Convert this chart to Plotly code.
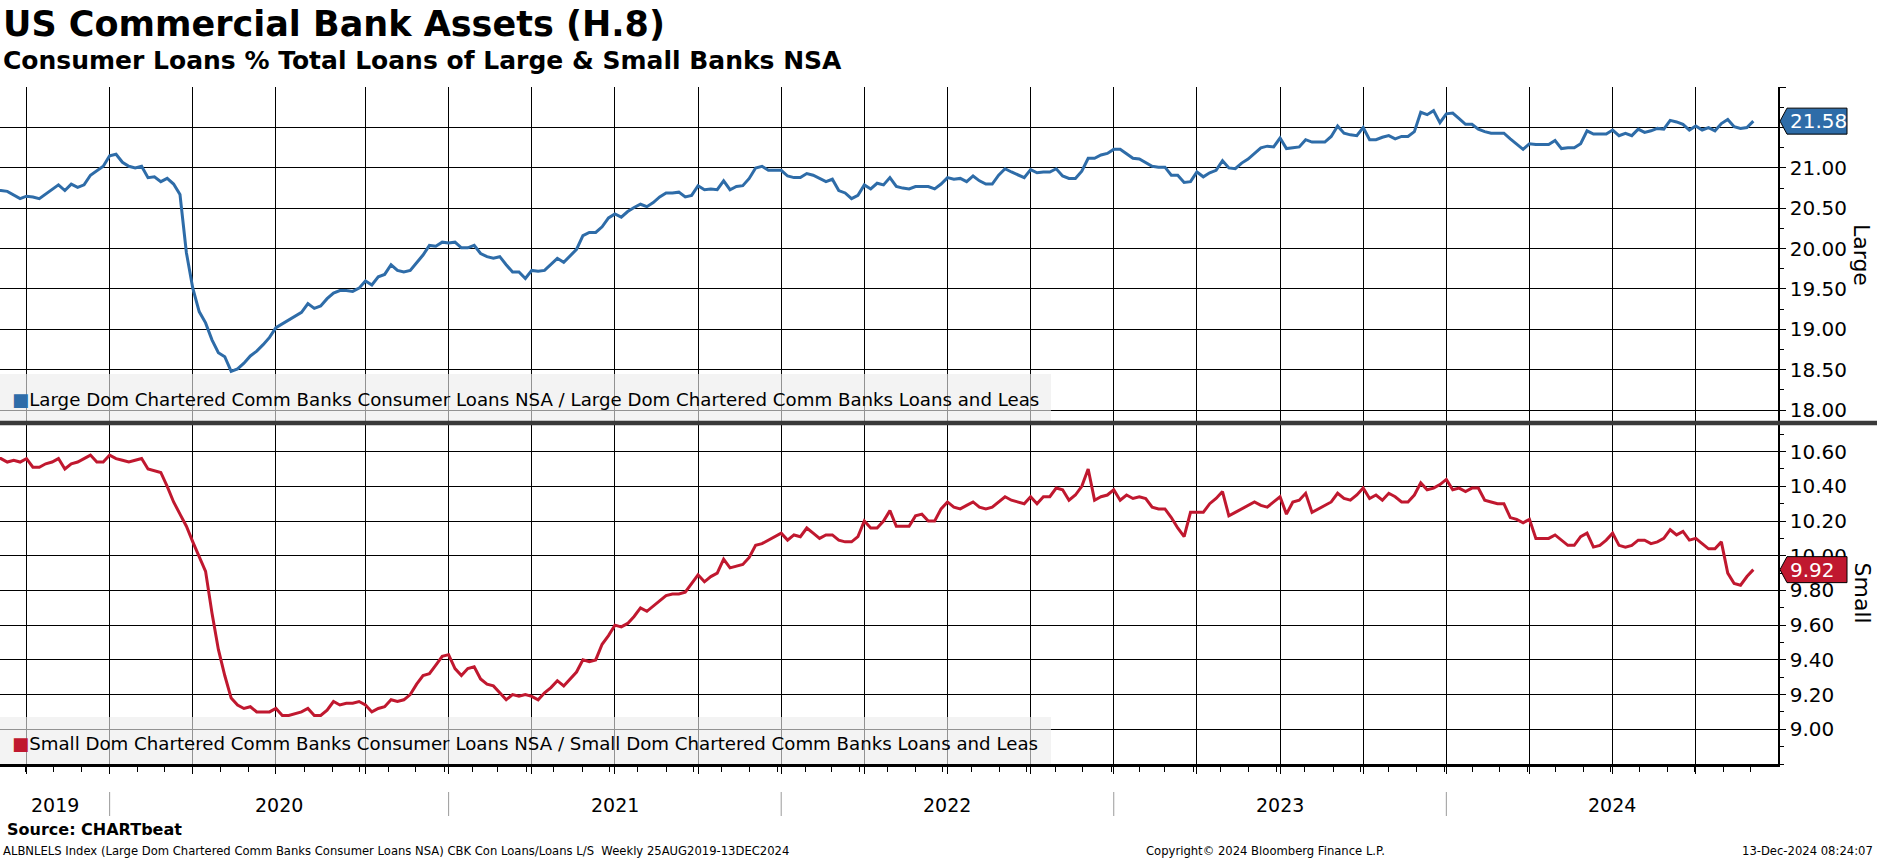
import pandas as pd
import plotly.graph_objects as go

# ---------------- data (weekly, Wednesday observations) ----------------
start_date = "2019-08-28"
large = [
    20.72, 20.72, 20.71, 20.67, 20.62, 20.65, 20.64, 20.62, 20.68, 20.73,
    20.79, 20.72, 20.80, 20.76, 20.79, 20.91, 20.97, 21.02, 21.15, 21.17,
    21.07, 21.02, 21.00, 21.02, 20.88, 20.89, 20.83, 20.87, 20.80, 20.67,
    19.95, 19.51, 19.22, 19.08, 18.87, 18.71, 18.66, 18.48, 18.51, 18.58,
    18.67, 18.73, 18.81, 18.90, 19.02, 19.07, 19.11, 19.16, 19.21, 19.32,
    19.26, 19.29, 19.38, 19.45, 19.48, 19.48, 19.47, 19.51, 19.60, 19.55,
    19.65, 19.68, 19.80, 19.73, 19.71, 19.73, 19.83, 19.92, 20.04, 20.03,
    20.08, 20.07, 20.08, 20.01, 20.01, 20.04, 19.94, 19.90, 19.88, 19.90,
    19.80, 19.71, 19.71, 19.63, 19.73, 19.72, 19.73, 19.80, 19.88, 19.83,
    19.91, 19.99, 20.16, 20.20, 20.20, 20.27, 20.38, 20.43, 20.39, 20.46,
    20.51, 20.55, 20.52, 20.57, 20.64, 20.69, 20.69, 20.70, 20.64, 20.66,
    20.78, 20.73, 20.74, 20.73, 20.84, 20.73, 20.77, 20.78, 20.87, 21.00,
    21.02, 20.97, 20.97, 20.97, 20.90, 20.88, 20.88, 20.93, 20.91, 20.87,
    20.83, 20.86, 20.72, 20.69, 20.62, 20.66, 20.79, 20.74, 20.81, 20.79,
    20.88, 20.77, 20.75, 20.74, 20.77, 20.77, 20.77, 20.74, 20.80, 20.88,
    20.86, 20.87, 20.83, 20.90, 20.84, 20.80, 20.80, 20.91, 20.99, 20.95,
    20.91, 20.88, 20.98, 20.94, 20.95, 20.95, 20.99, 20.90, 20.87, 20.87,
    20.96, 21.12, 21.12, 21.16, 21.18, 21.23, 21.23, 21.17, 21.12, 21.11,
    21.07, 21.02, 21.01, 21.01, 20.91, 20.91, 20.82, 20.83, 20.95, 20.89,
    20.94, 20.97, 21.09, 21.00, 20.99, 21.06, 21.11, 21.18, 21.25, 21.27,
    21.26, 21.37, 21.24, 21.25, 21.26, 21.35, 21.32, 21.32, 21.32, 21.39,
    21.52, 21.43, 21.41, 21.40, 21.50, 21.35, 21.35, 21.38, 21.40, 21.36,
    21.39, 21.39, 21.45, 21.69, 21.66, 21.71, 21.56, 21.67, 21.68, 21.61,
    21.54, 21.54, 21.48, 21.45, 21.43, 21.43, 21.43, 21.36, 21.30, 21.23,
    21.30, 21.29, 21.29, 21.29, 21.34, 21.24, 21.25, 21.25, 21.30, 21.46,
    21.42, 21.42, 21.42, 21.47, 21.40, 21.43, 21.40, 21.48, 21.44, 21.46,
    21.49, 21.48, 21.59, 21.57, 21.54, 21.47, 21.52, 21.47, 21.50, 21.46,
    21.55, 21.60, 21.51, 21.49, 21.50, 21.58,
]
small = [
    10.56, 10.56, 10.54, 10.55, 10.54, 10.56, 10.51, 10.51, 10.53, 10.54,
    10.56, 10.50, 10.53, 10.54, 10.56, 10.58, 10.54, 10.54, 10.58, 10.56,
    10.55, 10.54, 10.55, 10.56, 10.50, 10.49, 10.48, 10.40, 10.31, 10.24,
    10.17, 10.08, 9.99, 9.91, 9.67, 9.46, 9.31, 9.18, 9.14, 9.12,
    9.13, 9.10, 9.10, 9.10, 9.12, 9.08, 9.08, 9.09, 9.10, 9.12,
    9.08, 9.08, 9.11, 9.16, 9.14, 9.15, 9.15, 9.16, 9.14, 9.10,
    9.12, 9.13, 9.17, 9.16, 9.17, 9.20, 9.26, 9.31, 9.32, 9.37,
    9.42, 9.43, 9.35, 9.31, 9.35, 9.36, 9.29, 9.26, 9.25, 9.21,
    9.17, 9.20, 9.19, 9.20, 9.19, 9.17, 9.21, 9.24, 9.28, 9.25,
    9.29, 9.33, 9.40, 9.39, 9.40, 9.49, 9.54, 9.60, 9.59, 9.61,
    9.65, 9.70, 9.68, 9.71, 9.74, 9.77, 9.78, 9.78, 9.79, 9.84,
    9.89, 9.85, 9.88, 9.90, 9.98, 9.93, 9.94, 9.95, 9.99, 10.06,
    10.07, 10.09, 10.11, 10.13, 10.09, 10.12, 10.11, 10.16, 10.13, 10.10,
    10.12, 10.12, 10.09, 10.08, 10.08, 10.11, 10.20, 10.16, 10.16, 10.20,
    10.26, 10.17, 10.17, 10.17, 10.23, 10.24, 10.20, 10.20, 10.27, 10.31,
    10.28, 10.27, 10.29, 10.31, 10.28, 10.27, 10.28, 10.31, 10.34, 10.32,
    10.31, 10.30, 10.34, 10.30, 10.34, 10.34, 10.39, 10.38, 10.32, 10.35,
    10.40, 10.50, 10.32, 10.34, 10.35, 10.38, 10.32, 10.35, 10.33, 10.34,
    10.33, 10.28, 10.27, 10.27, 10.22, 10.16, 10.11, 10.25, 10.25, 10.25,
    10.30, 10.33, 10.37, 10.23, 10.25, 10.27, 10.29, 10.31, 10.29, 10.28,
    10.31, 10.34, 10.24, 10.31, 10.32, 10.36, 10.25, 10.27, 10.29, 10.31,
    10.36, 10.33, 10.32, 10.35, 10.39, 10.33, 10.35, 10.32, 10.36, 10.34,
    10.31, 10.31, 10.35, 10.42, 10.38, 10.39, 10.41, 10.44, 10.38, 10.39,
    10.37, 10.39, 10.39, 10.32, 10.31, 10.30, 10.30, 10.22, 10.21, 10.19,
    10.21, 10.10, 10.10, 10.10, 10.12, 10.09, 10.06, 10.06, 10.11, 10.13,
    10.05, 10.06, 10.09, 10.13, 10.06, 10.05, 10.06, 10.09, 10.09, 10.07,
    10.08, 10.10, 10.15, 10.12, 10.14, 10.09, 10.10, 10.07, 10.04, 10.04,
    10.08, 9.90, 9.84, 9.83, 9.88, 9.92,
]
dates = pd.date_range(start_date, periods=len(large), freq="7D")

title_text = "US Commercial Bank Assets (H.8)"
subtitle_text = "Consumer Loans % Total Loans of Large & Small Banks NSA"
large_name = "Large Dom Chartered Comm Banks Consumer Loans NSA / Large Dom Chartered Comm Banks Loans and Leas"
small_name = "Small Dom Chartered Comm Banks Consumer Loans NSA / Small Dom Chartered Comm Banks Loans and Leas"
large_axis_title = "Large"
small_axis_title = "Small"
large_ticks = [18.0, 18.5, 19.0, 19.5, 20.0, 20.5, 21.0, 21.5, 22.0]
large_hidden = [21.5, 22.0]
small_ticks = [9.0, 9.2, 9.4, 9.6, 9.8, 10.0, 10.2, 10.4, 10.6]
years = [2019, 2020, 2021, 2022, 2023, 2024]
x_range = ["2019-09-03", "2024-12-31"]
large_range = [17.839, 22.003]
small_range = [8.80, 10.765]
source_text = "Source: CHARTbeat"
footer_left = "ALBNLELS Index (Large Dom Chartered Comm Banks Consumer Loans NSA) CBK Con Loans/Loans L/S  Weekly 25AUG2019-13DEC2024"
footer_mid = "Copyright\u00a9 2024 Bloomberg Finance L.P."
footer_right = "13-Dec-2024 08:24:07"

# ---------------- style ----------------
BLUE = "#2e6ca8"
RED = "#c0182f"
FONT = "DejaVu Sans"
W, H = 1877, 859
ML, MR, MT, MB = 0, 99, 87, 95
PH = H - MT - MB
split = (H - MB - 423) / PH  # paper y of the divider

# quarter gridlines at the first observation of each quarter
qstarts = pd.date_range("2019-10-01", "2024-10-01", freq="QS")
grid_dates = [dates[dates >= q][0] for q in qstarts]
year_starts = [dates[dates >= pd.Timestamp(f"{y}-01-01")][0] for y in years[1:]]

fig = go.Figure()
fig.add_trace(go.Scatter(x=dates, y=large, mode="lines", line=dict(color=BLUE, width=3),
                         xaxis="x", yaxis="y", showlegend=False, name=large_name))
fig.add_trace(go.Scatter(x=dates, y=small, mode="lines", line=dict(color=RED, width=3),
                         xaxis="x2", yaxis="y2", showlegend=False, name=small_name))

xcommon = dict(type="date", range=x_range, tickmode="array", tickvals=grid_dates,
               showgrid=True, gridcolor="black", gridwidth=1.3, zeroline=False,
               showticklabels=False)
ycommon = dict(side="right", showgrid=True, gridcolor="black", gridwidth=1.3, zeroline=False,
               ticks="outside", ticklen=6, tickwidth=1.3, tickcolor="black",
               showline=True, linecolor="black", linewidth=1.5,
               tickfont=dict(family=FONT, size=20, color="black"))

fig.update_layout(
    width=W, height=H, margin=dict(l=ML, r=MR, t=MT, b=MB),
    paper_bgcolor="white", plot_bgcolor="white", showlegend=False,
    font=dict(family=FONT, color="black"),
    xaxis=dict(**xcommon, anchor="y", domain=[0, 1], ticks=""),
    xaxis2=dict(**xcommon, anchor="y2", domain=[0, 1], matches="x",
                ticks="outside", ticklen=7, tickcolor="black", tickwidth=1.3,
                showline=True, linecolor="black", linewidth=2.5,
                minor=dict(ticks="outside", ticklen=5, tickcolor="black", dtick="M1",
                           tick0="2019-09-01", showgrid=False)),
    yaxis=dict(**ycommon, anchor="x", domain=[split, 1], range=large_range,
               tickmode="array", tickvals=large_ticks,
               ticktext=["" if v in large_hidden else f"{v:.2f}" for v in large_ticks],
               minor=dict(tickmode="linear", tick0=18.0, dtick=0.25, ticks="outside",
                          ticklen=4, tickcolor="black", showgrid=False)),
    yaxis2=dict(**ycommon, anchor="x2", domain=[0, split], range=small_range,
                tickmode="array", tickvals=small_ticks,
                ticktext=[f"{v:.2f}" for v in small_ticks],
                minor=dict(tickmode="linear", tick0=9.0, dtick=0.1, ticks="outside",
                           ticklen=4, tickcolor="black", showgrid=False)),
)

def py(pix):
    return (H - MB - pix) / PH

def px(pix):
    return (pix - ML) / (W - ML - MR)

shapes = []
ann = []

# legend boxes
for y0, y1 in [(374, 423), (717, 764)]:
    shapes.append(dict(type="rect", xref="paper", yref="paper", x0=0, x1=px(1051),
                       y0=py(y1), y1=py(y0), fillcolor="rgba(236,236,236,0.62)",
                       line=dict(width=0), layer="above"))
for name, color, ypix in [(large_name, BLUE, 399), (small_name, RED, 743)]:
    ann.append(dict(xref="paper", yref="paper", x=0, y=py(ypix), xanchor="left", yanchor="middle",
                    xshift=10, showarrow=False,
                    text=f"<span style='color:{color}'>\u25a0</span>{name}",
                    font=dict(family=FONT, size=18.2, color="black")))

# divider between panels
shapes.append(dict(type="line", xref="paper", yref="paper", x0=0, x1=px(W), y0=split, y1=split,
                   line=dict(color="#3a3a3a", width=4.5), layer="above"))

# last value boxes
for val, color, yref in [(large[-1], BLUE, "y"), (small[-1], RED, "y2")]:
    shapes.append(dict(type="path", xref="paper", yref=yref, xsizemode="pixel", ysizemode="pixel",
                       xanchor=1, yanchor=val,
                       path="M 2,0 L 9,13 L 69,13 L 69,-13 L 9,-13 Z",
                       fillcolor=color, line=dict(color="black", width=1), layer="above"))
    ann.append(dict(xref="paper", yref=yref, x=1, y=val, xanchor="left", yanchor="middle",
                    xshift=10, showarrow=False, text=f"{val:.2f}",
                    font=dict(family=FONT, size=20, color="white")))

# right axis titles
for txt, ymid in [(large_axis_title, (87 + 423) / 2), (small_axis_title, (423 + 764) / 2)]:
    ann.append(dict(xref="paper", yref="paper", x=px(1862), y=py(ymid), xanchor="center",
                    yanchor="middle", textangle=90, showarrow=False, text=txt,
                    font=dict(family=FONT, size=22, color="black")))

# year separators and labels
bounds = [pd.Timestamp(x_range[0])] + year_starts + [pd.Timestamp(x_range[1])]
for ys in year_starts:
    shapes.append(dict(type="line", xref="x2", yref="paper", x0=ys, x1=ys,
                       y0=py(792), y1=py(816), line=dict(color="#9a9a9a", width=1)))
for i, yr in enumerate(years):
    mid = bounds[i] + (bounds[i + 1] - bounds[i]) / 2
    ann.append(dict(xref="x2", yref="paper", x=mid, y=py(805), xanchor="center", yanchor="middle",
                    showarrow=False, text=str(yr), font=dict(family=FONT, size=19, color="black")))

# titles
ann.append(dict(xref="paper", yref="paper", x=0, y=py(24), xanchor="left", yanchor="middle",
                xshift=1, showarrow=False, text=f"<b>{title_text}</b>",
                font=dict(family=FONT, size=35, color="black")))
ann.append(dict(xref="paper", yref="paper", x=0, y=py(60), xanchor="left", yanchor="middle",
                xshift=1, showarrow=False, text=f"<b>{subtitle_text}</b>",
                font=dict(family=FONT, size=25, color="black")))

# footer
ann.append(dict(xref="paper", yref="paper", x=0, y=py(829), xanchor="left", yanchor="middle",
                xshift=5, showarrow=False, text=f"<b>{source_text}</b>",
                font=dict(family=FONT, size=16, color="black")))
ann.append(dict(xref="paper", yref="paper", x=0, y=py(851), xanchor="left", yanchor="middle",
                xshift=1, showarrow=False, text=footer_left,
                font=dict(family=FONT, size=11.6, color="black")))
ann.append(dict(xref="paper", yref="paper", x=px(1144), y=py(851), xanchor="left", yanchor="middle",
                showarrow=False, text=footer_mid, font=dict(family=FONT, size=11.6, color="black")))
ann.append(dict(xref="paper", yref="paper", x=px(1875), y=py(851), xanchor="right", yanchor="middle",
                showarrow=False, text=footer_right, font=dict(family=FONT, size=11.6, color="black")))

fig.update_layout(shapes=shapes, annotations=ann)
fig.write_html("out.html", config={"displayModeBar": False},
               post_script="document.body.style.margin='0';document.body.style.overflow='hidden';")
